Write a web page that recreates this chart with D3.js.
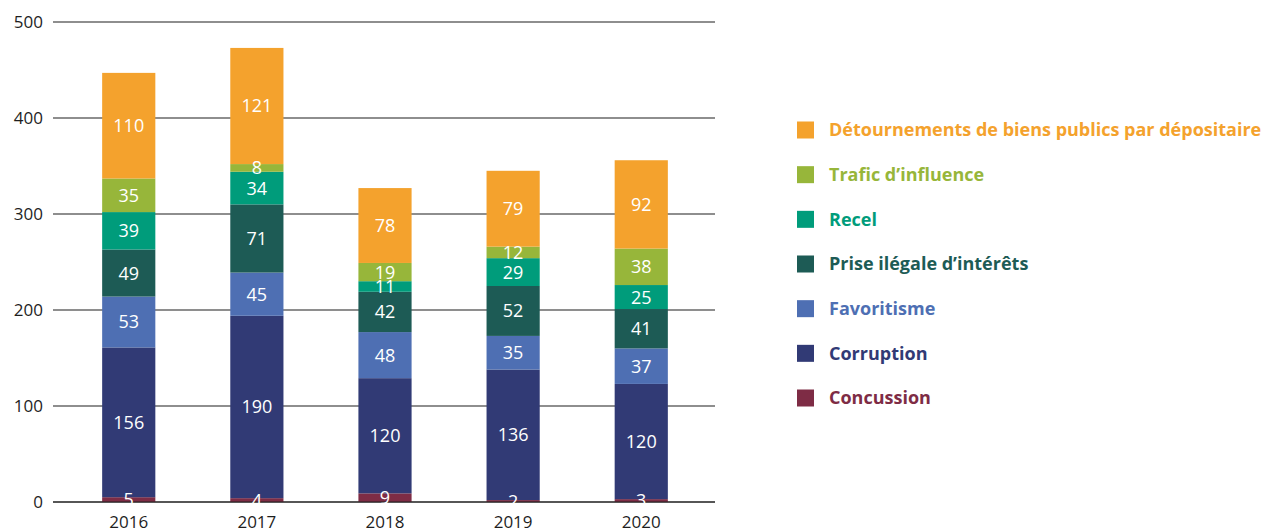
<!DOCTYPE html>
<html><head><meta charset="utf-8">
<script src="https://cdn.jsdelivr.net/npm/d3@7"></script>
<style>
html,body{margin:0;padding:0;background:#fff;}
text{font-family:"Open Sans",Lato,sans-serif;}
</style></head>
<body><svg id="c" width="1269" height="532"></svg>
<script>
const years = ["2016","2017","2018","2019","2020"];
const seriesNames = ["Concussion","Corruption","Favoritisme","Prise ilégale d’intérêts","Recel","Trafic d’influence","Détournements de biens publics par dépositaire"];
const concussion = [5,4,9,2,3];
const corruption = [156,190,120,136,120];
const favoritisme = [53,45,48,35,37];
const priseIllegale = [49,71,42,52,41];
const recel = [39,34,11,29,25];
const trafic = [35,8,19,12,38];
const detournements = [110,121,78,79,92];
const colors = ["#7E2C45","#313A75","#4E6FB3","#1D5B55","#009C7B","#97B63A","#F4A22D"];
const yTicks = [0,100,200,300,400,500];

const values = [concussion,corruption,favoritisme,priseIllegale,recel,trafic,detournements];
const rows = years.map((y,i)=>{const r={year:y}; seriesNames.forEach((s,j)=>r[s]=values[j][i]); return r;});
const stack = d3.stack().keys(seriesNames)(rows);

const svg = d3.select("#c");
const y = d3.scaleLinear().domain([0,500]).range([502,22]);
const x = d3.scaleBand().domain(years).range([65,705]).paddingInner(0.585).paddingOuter(0.29);

// gridlines
svg.append("g").selectAll("line").data(yTicks).join("line")
  .attr("x1",53).attr("x2",715).attr("y1",d=>y(d)).attr("y2",d=>y(d))
  .attr("stroke","#1e1e1e").attr("stroke-width",1.2);
svg.append("g").selectAll("text").data(yTicks).join("text")
  .attr("x",43).attr("y",d=>y(d)).attr("dy","0.35em").attr("text-anchor","end")
  .attr("font-size",17).attr("fill","#1e1e1e").text(d=>d);

// bars
const layers = svg.append("g").selectAll("g").data(stack).join("g").attr("fill",(d,i)=>colors[i]);
layers.selectAll("rect").data(d=>d).join("rect")
  .attr("x",d=>x(d.data.year)).attr("width",x.bandwidth())
  .attr("y",d=>y(d[1])).attr("height",d=>y(d[0])-y(d[1]));
svg.append("line").attr("x1",53).attr("x2",715).attr("y1",y(0)).attr("y2",y(0)).attr("stroke","#1e1e1e").attr("stroke-width",1.2);

// labels
const labels = svg.append("g");
stack.forEach((layer,i)=>{
  labels.selectAll(null).data(layer).join("text")
    .attr("x",d=>x(d.data.year)+x.bandwidth()/2)
    .attr("y",d=>(y(d[0])+y(d[1]))/2).attr("dy","0.36em")
    .attr("text-anchor","middle").attr("font-size",18).attr("fill","#fff")
    .text(d=>d[1]-d[0]);
});

// x labels
svg.append("g").selectAll("text").data(years).join("text")
  .attr("x",d=>x(d)+x.bandwidth()/2).attr("y",528).attr("text-anchor","middle")
  .attr("font-size",17).attr("fill","#1e1e1e").text(d=>d);

// legend
const legendOrder = seriesNames.map((s,i)=>({name:s,color:colors[i]})).reverse();
const ly = d3.scalePoint().domain(legendOrder.map(d=>d.name)).range([130,398]);
const lg = svg.append("g").selectAll("g").data(legendOrder).join("g")
  .attr("transform",d=>`translate(797,${ly(d.name)})`);
lg.append("rect").attr("x",0).attr("y",-8.5).attr("width",17).attr("height",17).attr("fill",d=>d.color);
lg.append("text").attr("x",32).attr("dy","0.35em").attr("font-size",18).attr("font-weight","bold")
  .attr("fill",d=>d.color).text(d=>d.name);
</script></body></html>
